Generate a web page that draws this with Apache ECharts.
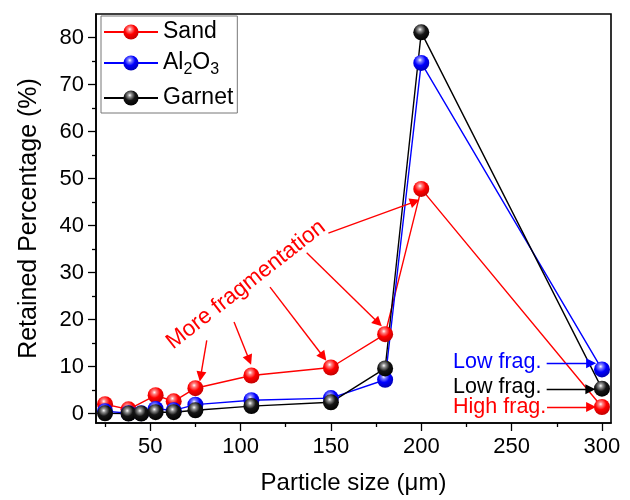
<!DOCTYPE html>
<html>
<head>
<meta charset="utf-8">
<script src="https://cdn.jsdelivr.net/npm/echarts@6/dist/echarts.min.js"></script>
<style>html,body{margin:0;padding:0;background:#fff;}#c{width:630px;height:500px;}</style>
</head>
<body>
<div id="c"></div>
<script>
// ---- data ----
const sizes = [25, 38, 45, 53, 63, 75, 106, 150, 180, 200, 300];
const sand = [2.0, 0.9, null, 3.9, 2.6, 5.4, 8.1, 9.8, 16.9, 47.8, 1.4];
const alumina = [0.5, 0.1, 0.1, 1.0, 0.7, 1.9, 2.85, 3.3, 7.2, 74.6, 9.4];
const garnet = [0.05, 0.0, 0.0, 0.3, 0.3, 0.7, 1.6, 2.4, 9.6, 81.1, 5.3];
const seriesNames = ['Sand', 'Al2O3', 'Garnet'];
const xMajorTicks = [50, 100, 150, 200, 250, 300];
const xMinorTicks = [25, 75, 125, 175, 225, 275];
const yMajorTicks = [0, 10, 20, 30, 40, 50, 60, 70, 80];
const yMinorTicks = [5, 15, 25, 35, 45, 55, 65, 75];
// annotations (data coordinates)
const fragText = 'More fragmentation';
const fragTextPos = [103, 27.4];
const fragTextAngle = 38;
const sandArrows = [
  [[81.3, 15.6], [77.9, 7.9]],
  [[96.4, 19.5], [104.8, 11.4]],
  [[116.3, 26.9], [145.8, 12.1]],
  [[136.6, 34.2], [176.2, 19.3]],
  [[148.6, 38.4], [196.5, 45.1]],
  [[269.6, 1.4], [294.0, 1.4]]
];
const aluminaArrows = [[[269.4, 10.7], [294.0, 10.7]]];
const garnetArrows = [[[269.4, 5.2], [293.6, 5.2]]];
const sideLabels = [
  {text: 'Low frag.', pos: [217.6, 10.9], color: '#0000ff'},
  {text: 'Low frag.', pos: [217.6, 5.6], color: '#000000'},
  {text: 'High frag.', pos: [217.6, 1.4], color: '#ff0000'}
];

const FONT = '"Liberation Sans", Arial, sans-serif';

function ball(c0, c1, c2) {
  return {type: 'radial', x: 0.42, y: 0.32, r: 0.7,
    colorStops: [{offset: 0, color: '#ffffff'}, {offset: 0.18, color: c0}, {offset: 0.5, color: c1}, {offset: 1, color: c2}]};
}
const styles = [
  {line: '#ff0000', fill: ball('#ff8080', '#ff0000', '#c00000')},
  {line: '#0000ff', fill: ball('#8080ff', '#0000ff', '#0000b0')},
  {line: '#000000', fill: ball('#909090', '#151515', '#000000')}
];
const values = [sand, alumina, garnet];
const arrowsBySeries = [sandArrows, aluminaArrows, garnetArrows];

function pairs(vals) {
  const out = [];
  sizes.forEach((x, i) => { if (vals[i] !== null) out.push([x, vals[i]]); });
  return out;
}

const chart = echarts.init(document.getElementById('c'), null, {renderer: 'canvas'});

const axisCommon = {
  type: 'value', splitLine: {show: false}
};

const option = {
  animation: false,
  backgroundColor: '#ffffff',
  textStyle: {fontFamily: FONT},
  grid: {left: 96, right: 19, top: 14, bottom: 73, show: true, borderColor: '#000', borderWidth: 1.6, backgroundColor: 'transparent'},
  legend: {
    left: 101, top: 16, orient: 'vertical',
    itemWidth: 54, itemHeight: 19, itemGap: 8,
    padding: [4, 4, 4, 2],
    borderColor: '#777', borderWidth: 1, backgroundColor: '#fff',
    textStyle: {fontSize: 23, fontFamily: FONT, color: '#000',
      rich: {
        n: {fontSize: 23, fontFamily: FONT, color: '#000', verticalAlign: 'top', lineHeight: 24},
        s: {fontSize: 16, fontFamily: FONT, color: '#000', verticalAlign: 'top', lineHeight: 16, padding: [11, 0, 0, 0]}
      }},
    formatter: function (name) {
      if (name === 'Al2O3') return '{n|Al}{s|2}{n|O}{s|3}';
      return '{n|' + name + '}';
    },
    data: seriesNames
  },
  xAxis: [
    Object.assign({}, axisCommon, {
      min: 20, max: 305, position: 'bottom',
      name: 'Particle size (\u03bcm)', nameLocation: 'middle', nameGap: 48,
      nameTextStyle: {fontSize: 24, color: '#000', fontFamily: FONT},
      axisLine: {show: true, onZero: false, lineStyle: {color: '#000', width: 1.6}},
      axisTick: {show: true, inside: false, length: 8, lineStyle: {color: '#000', width: 1.3}, customValues: xMajorTicks},
      axisLabel: {show: true, fontSize: 22, color: '#000', fontFamily: FONT, margin: 13, customValues: xMajorTicks}
    }),
    Object.assign({}, axisCommon, {
      min: 20, max: 305, position: 'bottom',
      axisLine: {show: false, onZero: false},
      axisTick: {show: true, inside: false, length: 4, lineStyle: {color: '#000', width: 1.3}, customValues: xMinorTicks},
      axisLabel: {show: false, customValues: xMinorTicks}
    })
  ],
  yAxis: [
    Object.assign({}, axisCommon, {
      min: -2, max: 85, position: 'left',
      name: 'Retained Percentage (%)', nameLocation: 'middle', nameGap: 54,
      nameTextStyle: {fontSize: 25, color: '#000', fontFamily: FONT},
      axisLine: {show: true, onZero: false, lineStyle: {color: '#000', width: 1.6}},
      axisTick: {show: true, inside: false, length: 8, lineStyle: {color: '#000', width: 1.3}, customValues: yMajorTicks},
      axisLabel: {show: true, fontSize: 22, color: '#000', fontFamily: FONT, margin: 12, customValues: yMajorTicks}
    }),
    Object.assign({}, axisCommon, {
      min: -2, max: 85, position: 'left',
      axisLine: {show: false, onZero: false},
      axisTick: {show: true, inside: false, length: 4, lineStyle: {color: '#000', width: 1.3}, customValues: yMinorTicks},
      axisLabel: {show: false, customValues: yMinorTicks}
    })
  ],
  series: seriesNames.map((name, k) => ({
    name: name, type: 'line', xAxisIndex: 0, yAxisIndex: 0,
    data: pairs(values[k]),
    symbol: 'circle', symbolSize: 16,
    lineStyle: {color: styles[k].line, width: 1.4},
    itemStyle: {color: styles[k].fill, borderWidth: 0},
    emphasis: {disabled: true},
    markLine: {
      silent: true, animation: false,
      symbol: ['none', 'triangle'], symbolSize: 10,
      lineStyle: {type: 'solid', width: 1.4, color: styles[k].line},
      itemStyle: {color: styles[k].line},
      label: {show: false},
      emphasis: {disabled: true},
      data: arrowsBySeries[k].map(a => [{coord: a[0]}, {coord: a[1]}])
    }
  }))
};

chart.setOption(option);

const toPx = p => chart.convertToPixel({xAxisIndex: 0, yAxisIndex: 0}, p);
const graphics = [];
const fp = toPx(fragTextPos);
graphics.push({type: 'text', x: fp[0], y: fp[1], rotation: fragTextAngle * Math.PI / 180, z: 10,
  style: {text: fragText, fill: '#ff0000', fontSize: 22.5, fontFamily: FONT, align: 'center', verticalAlign: 'middle'}});
sideLabels.forEach(l => {
  const p = toPx(l.pos);
  graphics.push({type: 'text', x: p[0], y: p[1], z: 10,
    style: {text: l.text, fill: l.color, fontSize: 21.5, fontFamily: FONT, align: 'left', verticalAlign: 'middle'}});
});
chart.setOption({graphic: graphics});
</script>
</body>
</html>
